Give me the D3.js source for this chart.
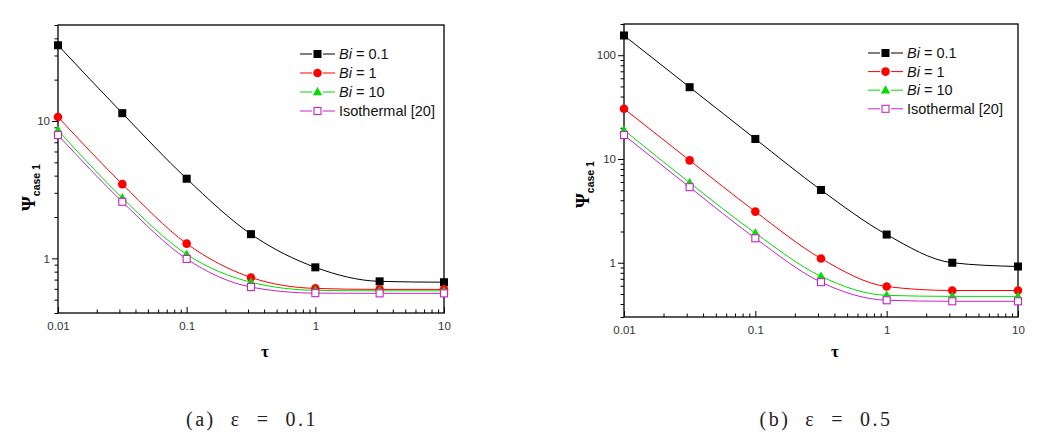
<!DOCTYPE html>
<html>
<head>
<meta charset="utf-8">
<script src="https://cdn.jsdelivr.net/npm/d3@7"></script>
<style>
  body { margin: 0; background: #fff; }
  svg { display: block; }
  .legend text { font-family: "Liberation Sans", Arial, sans-serif; font-size: 14.5px; }
</style>
</head>
<body>
<svg width="1047" height="436"></svg>
<script>
var svg = d3.select('svg');

// dimensionless time, same for both panels
const tau = [0.01, 0.0316, 0.1, 0.316, 1, 3.16, 10];
const seriesLabels = [['Bi', ' = 0.1'], ['Bi', ' = 1'], ['Bi', ' = 10'], ['', 'Isothermal [20]']];
const seriesColors = ['#000000', '#ff0000', '#00dd00', '#cc22cc'];
const seriesMarkers = ['square', 'circle', 'triangle', 'opensquare'];

// (a) eps = 0.1
const a_bi01 = [35.6, 11.4, 3.8, 1.5, 0.86, 0.68, 0.67];
const a_bi1 = [10.7, 3.47, 1.28, 0.726, 0.604, 0.594, 0.594];
const a_bi10 = [8.57, 2.75, 1.07, 0.67, 0.585, 0.58, 0.58];
const a_iso = [7.9, 2.58, 0.99, 0.618, 0.558, 0.556, 0.556];
// (b) eps = 0.5
const b_bi01 = [155, 49.2, 15.6, 5.03, 1.87, 1.0, 0.92];
const b_bi1 = [30.5, 9.7, 3.11, 1.1, 0.59, 0.54, 0.54];
const b_bi10 = [19.0, 5.9, 1.93, 0.74, 0.485, 0.474, 0.474];
const b_iso = [17.0, 5.35, 1.72, 0.65, 0.435, 0.425, 0.425];

const xTickLabels = ['0.01', '0.1', '1', '10'];
const a_yTickLabels = ['1', '10'];
const b_yTickLabels = ['1', '10', '100'];

const panels = [
    { left: 58, right: 444, top: 25, bottom: 313, yDomain: [0.4, 50], yLabels: a_yTickLabels,
      series: [a_bi01, a_bi1, a_bi10, a_iso], legendX: 300, legendY: 54, legendStep: 19,
      yTitleX: 35, yTitleY: 211, caption: '(a)  ε  =  0.1', captionX: 252 },
    { left: 624, right: 1018, top: 24, bottom: 317, yDomain: [0.3, 200], yLabels: b_yTickLabels,
      series: [b_bi01, b_bi1, b_bi10, b_iso], legendX: 868, legendY: 53, legendStep: 18.6,
      yTitleX: 589, yTitleY: 208, caption: '(b)  ε  =  0.5', captionX: 826 }
];

function drawMarker(g, type, color, x, y) {
    if (type == 'square') {
        g.append('rect').attr('x', x - 4).attr('y', y - 4).attr('width', 8).attr('height', 8).attr('fill', color);
    } else if (type == 'circle') {
        g.append('circle').attr('cx', x).attr('cy', y).attr('r', 4.3).attr('fill', color);
    } else if (type == 'triangle') {
        g.append('path').attr('d', d3.symbol(d3.symbolTriangle, 38)()).attr('transform', 'translate(' + x + ',' + (y + 0.5) + ')').attr('fill', color);
    } else {
        g.append('rect').attr('x', x - 3.5).attr('y', y - 3.5).attr('width', 7).attr('height', 7)
            .attr('fill', 'white').attr('stroke', color).attr('stroke-width', 1.1);
    }
}

function styleTickText(sel) {
    sel.attr('font-family', '"Liberation Sans", Arial, sans-serif').attr('font-size', 11.5).attr('fill', '#333');
}

function drawPanel(p) {
    let g = svg.append('g');
    let x = d3.scaleLog().domain([0.01, 10]).range([p.left, p.right]);
    let y = d3.scaleLog().domain(p.yDomain).range([p.bottom, p.top]);

    // minor + major ticks
    let yAxis = d3.axisLeft(y).tickSize(0)
        .tickFormat(d => p.yLabels.indexOf(String(d)) >= 0 ? String(d) : '');
    let ya = g.append('g').attr('transform', 'translate(' + p.left + ',0)').call(yAxis);
    ya.select('.domain').remove();
    ya.selectAll('.tick line').attr('x2', d => p.yLabels.indexOf(String(d)) >= 0 ? -6 : -3.5).attr('stroke', '#000');
    ya.selectAll('.tick text').attr('x', -8).call(styleTickText);

    let xAxis = d3.axisBottom(x).tickSize(0)
        .tickFormat(d => xTickLabels.indexOf(String(d)) >= 0 ? String(d) : '');
    let xa = g.append('g').attr('transform', 'translate(0,' + p.bottom + ')').call(xAxis);
    xa.select('.domain').remove();
    xa.selectAll('.tick line').attr('y2', d => xTickLabels.indexOf(String(d)) >= 0 ? -6 : -3.5).attr('stroke', '#000');
    xa.selectAll('.tick text').attr('y', 9).call(styleTickText);

    // frame
    g.append('rect').attr('x', p.left).attr('y', p.top)
        .attr('width', p.right - p.left).attr('height', p.bottom - p.top)
        .attr('fill', 'none').attr('stroke', '#000').attr('stroke-width', 1.3);

    let line = d3.line().x((d, i) => x(tau[i])).y(d => y(d)).curve(d3.curveMonotoneX);
    p.series.forEach(function(s, k) {
        g.append('path').attr('d', line(s)).attr('fill', 'none')
            .attr('stroke', seriesColors[k]).attr('stroke-width', 1);
    });
    p.series.forEach(function(s, k) {
        s.forEach(function(v, i) {
            drawMarker(g, seriesMarkers[k], seriesColors[k], x(tau[i]), y(v));
        });
    });

    // legend
    let lg = g.append('g').attr('class', 'legend');
    seriesLabels.forEach(function(lab, k) {
        let ly = p.legendY + k * p.legendStep;
        lg.append('line').attr('x1', p.legendX).attr('x2', p.legendX + 12).attr('y1', ly).attr('y2', ly)
            .attr('stroke', seriesColors[k]).attr('stroke-width', 1);
        lg.append('line').attr('x1', p.legendX + 23).attr('x2', p.legendX + 35).attr('y1', ly).attr('y2', ly)
            .attr('stroke', seriesColors[k]).attr('stroke-width', 1);
        drawMarker(lg, seriesMarkers[k], seriesColors[k], p.legendX + 17.5, ly);
        let t = lg.append('text').attr('x', p.legendX + 39).attr('y', ly + 5).attr('fill', '#111');
        if (lab[0]) t.append('tspan').attr('font-style', 'italic').text(lab[0]);
        t.append('tspan').text(lab[1]);
    });

    // axis titles
    g.append('text').attr('x', (p.left + p.right) / 2 + 14).attr('y', 357)
        .attr('text-anchor', 'middle').attr('font-family', '"Liberation Serif", serif')
        .attr('font-weight', 'bold').attr('font-size', 17).text('τ');
    let yt = g.append('text').attr('transform', 'translate(' + p.yTitleX + ',' + p.yTitleY + ') rotate(-90)')
        .attr('font-weight', 'bold');
    yt.append('tspan').attr('font-family', '"Liberation Serif", serif').attr('font-size', 19).text('Ψ');
    yt.append('tspan').attr('font-family', '"Liberation Sans", Arial, sans-serif').attr('font-size', 10.5)
        .attr('dy', 5).text('case 1');

    // caption
    g.append('text').attr('x', p.captionX).attr('y', 426).attr('text-anchor', 'middle')
        .attr('font-family', '"Liberation Serif", serif').attr('font-size', 20)
        .attr('letter-spacing', 2.5).attr('fill', '#222')
        .style('white-space', 'pre').text(p.caption);
}

panels.forEach(drawPanel);
</script>
</body>
</html>
